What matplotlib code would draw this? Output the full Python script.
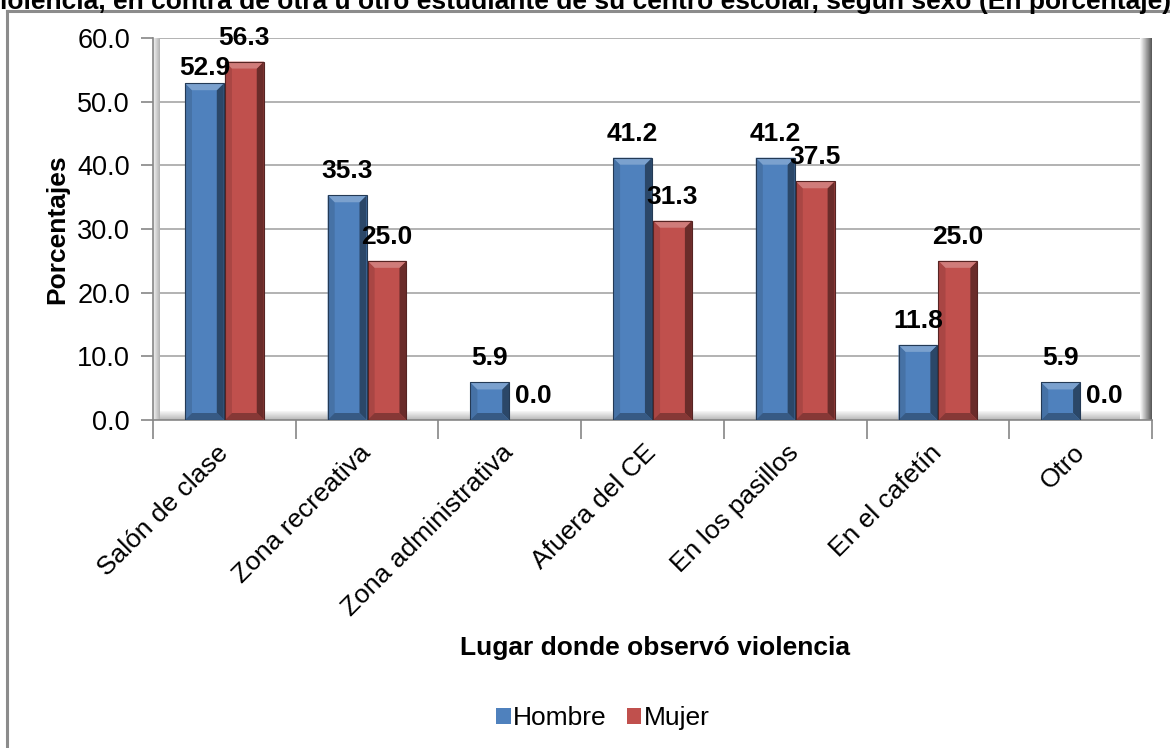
import numpy as np
import matplotlib
matplotlib.use("Agg")
import matplotlib.pyplot as plt
from matplotlib.patches import Polygon, Rectangle
from matplotlib.lines import Line2D
from matplotlib.colors import to_rgb

plt.rcParams['font.family'] = ['Liberation Sans', 'DejaVu Sans']

categories = ["Salón de clase", "Zona recreativa", "Zona administrativa",
              "Afuera del CE", "En los pasillos", "En el cafetín", "Otro"]
hombre = [52.9, 35.3, 5.9, 41.2, 41.2, 11.8, 5.9]
mujer = [56.3, 25.0, 0.0, 31.3, 37.5, 25.0, 0.0]
series_names = ["Hombre", "Mujer"]
series_colors = ["#4F81BD", "#C0504D"]
yticks = [0, 10, 20, 30, 40, 50, 60]

W, H = 1170, 748
fig = plt.figure(figsize=(W / 100, H / 100), dpi=100)

# plot area in pixels
px_l, px_r, px_t, px_b = 153, 1152, 38, 420
ax = fig.add_axes([px_l / W, 1 - px_b / H, (px_r - px_l) / W, (px_b - px_t) / H])
ax.set_xlim(-0.5, len(categories) - 0.5)
ax.set_ylim(0, 60)

# pixel-to-data scales
sx = (len(categories)) / (px_r - px_l)
sy = 60 / (px_b - px_t)


def shade(c, f):
    r = np.array(to_rgb(c))
    if f >= 0:
        return tuple(r + (1 - r) * f)
    return tuple(r * (1 + f))


def bevel_bar(rect, color):
    x0 = rect.get_x()
    w = rect.get_width()
    h = rect.get_height()
    x1 = x0 + w
    if h <= 0:
        return
    bx = 7 * sx
    by = min(7 * sy, h / 2)
    bxe = min(bx, w / 2)
    z = 3
    # right side darker
    ax.add_patch(Polygon([(x1, 0), (x1, h), (x1 - bxe, h - by), (x1 - bxe, by)],
                         closed=True, fc=shade(color, -0.45), ec='none', zorder=z))
    # left side slightly darker
    ax.add_patch(Polygon([(x0, 0), (x0, h), (x0 + bxe, h - by), (x0 + bxe, by)],
                         closed=True, fc=shade(color, -0.12), ec='none', zorder=z))
    # top cap lighter
    ax.add_patch(Polygon([(x0, h), (x1, h), (x1 - bxe, h - by), (x0 + bxe, h - by)],
                         closed=True, fc=shade(color, 0.25), ec='none', zorder=z))
    # bottom darker
    ax.add_patch(Polygon([(x0, 0), (x1, 0), (x1 - bxe, by), (x0 + bxe, by)],
                         closed=True, fc=shade(color, -0.3), ec='none', zorder=z))
    ax.add_patch(Rectangle((x0, 0), w, h, fc='none', ec=shade(color, -0.55), lw=0.8, zorder=z + 0.1))


# gridlines
for t in yticks[1:]:
    ax.axhline(t, color='#A6A6A6', lw=1.2, zorder=1, xmin=6 / (px_r - px_l))

# floor strip and side walls
floor_h = 9 * sy
grad = np.linspace(0.97, 0.72, 32).reshape(-1, 1)
ax.imshow(grad, cmap='gray', vmin=0, vmax=1, aspect='auto', zorder=1.5,
          extent=(-0.5 + 6 * sx, len(categories) - 0.5, 0, floor_h), origin='upper')
lw_grad = np.linspace(0.95, 0.70, 16).reshape(1, -1)
ax.imshow(lw_grad, cmap='gray', vmin=0, vmax=1, aspect='auto', zorder=1.5,
          extent=(-0.5, -0.5 + 7 * sx, 0, 60))
rw_grad = np.linspace(0.98, 0.35, 16).reshape(1, -1)
ax.imshow(rw_grad, cmap='gray', vmin=0, vmax=1, aspect='auto', zorder=1.5,
          extent=(len(categories) - 0.5 - 12 * sx, len(categories) - 0.5, 0, 60))
ax.set_xlim(-0.5, len(categories) - 0.5)
ax.set_ylim(0, 60)

x = np.arange(len(categories))
bw = 0.272
bars_h = ax.bar(x - bw / 2 - 0.004, hombre, bw, color=series_colors[0], zorder=2.5,
                label=series_names[0], linewidth=0)
bars_m = ax.bar(x + bw / 2 + 0.004, mujer, bw, color=series_colors[1], zorder=2.5,
                label=series_names[1], linewidth=0)
for r in bars_h:
    bevel_bar(r, series_colors[0])
for r in bars_m:
    bevel_bar(r, series_colors[1])

# value labels
label_shift = {(0, 0): (0, -9)}
for si, (bars, vals) in enumerate([(bars_h, hombre), (bars_m, mujer)]):
    for i, (r, v) in enumerate(zip(bars, vals)):
        dx, dy = label_shift.get((si, i), (0, 0))
        if v == 0:
            dx += 4
        ax.annotate(f"{v:.1f}", (r.get_x() + r.get_width() / 2, v),
                    xytext=(dx, 24 + dy), textcoords='offset pixels',
                    ha='center', va='center', fontsize=19, fontweight='bold',
                    color='black', zorder=5, annotation_clip=False)

# axes styling
for s in ['top', 'right']:
    ax.spines[s].set_visible(False)
ax.spines['left'].set_color('#868686')
ax.spines['bottom'].set_color('#868686')
ax.spines['left'].set_linewidth(1.2)
ax.spines['bottom'].set_linewidth(1.2)
ax.set_yticks(yticks)
ax.set_yticklabels([f"{t:.1f}" for t in yticks], fontsize=19.5)
ax.tick_params(axis='y', length=9, width=1.2, color='#868686', pad=7.5)
ax.set_xticks(np.arange(len(categories) + 1) - 0.5, minor=False)
ax.set_xticklabels([])
ax.tick_params(axis='x', length=14, width=1.2, color='#868686', direction='out')
ax.set_xticks(x, minor=True)
ax.set_xticklabels(categories, minor=True, rotation=45, ha='right', va='center',
                   rotation_mode='anchor', fontsize=19)
ax.tick_params(axis='x', which='minor', length=0, pad=21)

ax.set_ylabel("Porcentajes", fontsize=19, fontweight='bold', labelpad=6)
fig.text(655 / W, 1 - 648 / H, "Lugar donde observó violencia", ha='center', va='center',
         fontsize=19, fontweight='bold')

leg = fig.legend(handles=[bars_h, bars_m], labels=series_names, loc='center',
                 bbox_to_anchor=(603 / W, 1 - 718 / H), ncol=2, frameon=False,
                 fontsize=19, handlelength=0.55, handleheight=0.55,
                 handletextpad=0.1, columnspacing=0.75)

# chart frame
fig.add_artist(Line2D([7 / W, 7 / W], [0, 1 - 11 / H], color='#8C8C8C', lw=2.2,
                      transform=fig.transFigure))
fig.add_artist(Line2D([7 / W, 1], [1 - 11 / H, 1 - 11 / H], color='#8C8C8C', lw=2.2,
                      transform=fig.transFigure))

# title line, partly above the top edge
fig.text(0 / W, 1 - 9 / H,
         "iolencia, en contra de otra u otro estudiante de su centro escolar, según sexo (En porcentaje)",
         ha='left', va='baseline', fontsize=19, fontweight='bold')

fig.savefig("out.png", dpi=100)
